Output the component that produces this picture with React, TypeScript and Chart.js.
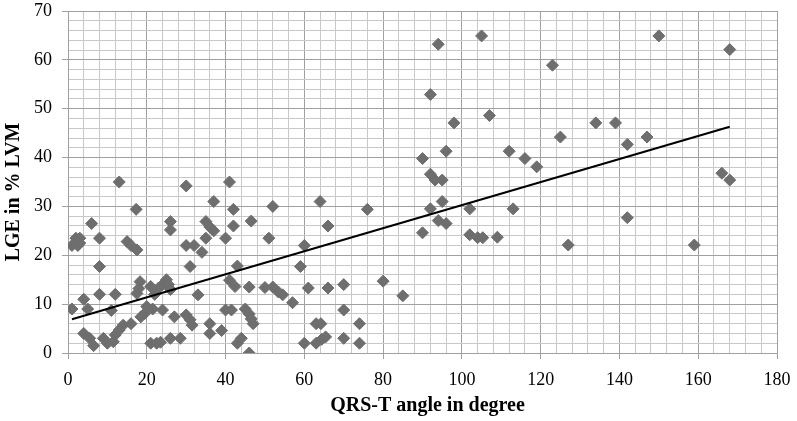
import { useEffect, useRef } from "react";
import { Chart, registerables } from "chart.js";

Chart.register(...registerables);

// QRS-T angle (degrees) of each patient
const qrsTAngle = [
  1, 2, 2.5, 3, 3, 1, 4, 5, 4, 5.5, 6.5, 6, 8, 8, 8, 9, 10, 11.5, 12, 13,
  14, 16, 11, 12, 13, 15, 16, 17.5, 17.3, 18.3, 18, 17.5, 18.5, 19.5, 20, 21.5, 21, 22, 23, 24,
  25, 25.5, 26, 21, 22.5, 23.5, 24, 26, 26, 26, 27, 28.5, 30, 31, 31.5, 30, 30, 32, 34, 31,
  33, 35, 36, 37, 35, 37, 36, 36, 39, 40, 41, 42, 42, 40, 41.5, 41, 42.4, 43, 43, 44,
  45, 46, 46.5, 47, 46.5, 46, 46, 51, 52, 50, 52, 53.4, 54.5, 57, 59, 60, 61, 60, 63, 64.4,
  65.4, 63, 64.2, 64, 66, 66, 70, 70, 70, 74, 74, 76, 80, 85,
  90, 90, 92, 92, 92, 93.2, 94, 94, 95, 95, 96, 96, 98, 102, 102, 104, 105.3, 105, 107, 109,
  112, 113, 116, 119, 123, 125, 127, 134, 139, 142, 142, 147, 150, 159, 166, 168, 168,
];

// LGE in % of LVM of each patient
const lgePercent = [
  22, 23.5, 22, 23.5, 22.5, 9, 11, 9, 4, 3, 1.5, 26.5, 23.5, 17.7, 12, 3, 2, 2.3, 3.7, 4.7,
  5.7, 6, 8.7, 12, 35, 22.8, 22, 21.1, 29.4, 14.6, 13.2, 12.2, 7.4, 8.1, 9.5, 9, 13.6, 12, 13.3, 14,
  15, 14, 13, 2, 2, 2.2, 8.8, 26.9, 25.2, 3, 7.4, 3, 7.8, 6.8, 5.7, 34.2, 22, 22, 20.6, 17.7,
  11.9, 26.9, 25.8, 25, 23.5, 31, 6, 4, 4.6, 23.5, 35, 29.4, 26, 8.8, 8.8, 14.9, 13.6, 17.8, 2, 3,
  9, 8, 7, 6, 27, 13.5, 0, 23.5, 30, 13.4, 13.5, 12.5, 11.9, 10.3, 17.7, 22, 13.3, 2, 2, 2.8,
  3.3, 6, 6, 31, 26, 13.3, 14, 8.8, 3, 6, 2, 29.4, 14.7, 11.7,
  24.6, 39.8, 29.5, 52.9, 36.6, 35.4, 27.1, 63.2, 31, 35.4, 26.5, 41.3, 47.1, 29.5, 24.2, 23.6, 23.6, 64.9, 48.6, 23.7,
  41.3, 29.5, 39.8, 38.1, 58.9, 44.2, 22.1, 47.1, 47.1, 42.7, 27.7, 44.2, 64.9, 22.1, 36.8, 35.4, 62.1,
];

// Linear trend line, read at its two ends
const trendX = [1, 168];
const trendY = [6.9, 46.3];

const X_MAJOR = 20;
const Y_MAJOR = 10;

const MAJOR_GRID = "#a0a0a0";
const MINOR_GRID = "#c8c8c8";

export default function App() {
  const canvasRef = useRef<HTMLCanvasElement | null>(null);

  useEffect(() => {
    const canvas = canvasRef.current;
    if (!canvas) return;

    const tickFont = { family: "'Liberation Serif', serif", size: 18 };
    const titleFont = { family: "'Liberation Serif', serif", size: 20, weight: "bold" as const };

    const chart = new Chart(canvas, {
      type: "scatter",
      data: {
        datasets: [
          {
            type: "line",
            data: trendX.map((x, i) => ({ x, y: trendY[i] })),
            borderColor: "#000000",
            borderWidth: 2,
            pointRadius: 0,
            fill: false,
            order: 0,
          } as any,
          {
            data: qrsTAngle.map((x, i) => ({ x, y: lgePercent[i] })),
            pointStyle: "rectRot",
            pointRadius: 6,
            backgroundColor: "#6e6e6e",
            borderColor: "#6e6e6e",
            borderWidth: 1,
            order: 1,
          },
        ],
      },
      options: {
        responsive: false,
        animation: false,
        layout: { padding: { top: 11, right: 20, left: 0, bottom: 0 } },
        plugins: {
          legend: { display: false },
          tooltip: { enabled: false },
        },
        scales: {
          x: {
            type: "linear",
            min: 0,
            max: 180,
            ticks: {
              stepSize: 4,
              autoSkip: false,
              maxRotation: 0,
              padding: 10,
              color: "#000000",
              font: tickFont,
              callback: (v: any) => (Number(v) % X_MAJOR === 0 ? String(v) : ""),
            },
            grid: {
              lineWidth: 1,
              tickLength: 6,
              color: (ctx: any) =>
                ctx.tick && ctx.tick.value % X_MAJOR === 0 ? MAJOR_GRID : MINOR_GRID,
              tickColor: (ctx: any) =>
                ctx.tick && ctx.tick.value % X_MAJOR === 0 ? MAJOR_GRID : "rgba(0,0,0,0)",
            },
            border: { color: MAJOR_GRID, width: 1 },
            title: {
              display: true,
              text: "  QRS-T angle in degree",
              color: "#000000",
              font: titleFont,
              padding: { top: 0, bottom: 3 },
            },
            afterFit: (scale: any) => {
              scale.height = 68;
              scale.paddingLeft = 0;
              scale.paddingRight = 0;
            },
          },
          y: {
            type: "linear",
            min: 0,
            max: 70,
            ticks: {
              stepSize: 2,
              autoSkip: false,
              padding: 10,
              color: "#000000",
              font: tickFont,
              callback: (v: any) => (Number(v) % Y_MAJOR === 0 ? String(v) : ""),
            },
            grid: {
              lineWidth: 1,
              tickLength: 6,
              color: (ctx: any) =>
                ctx.tick && ctx.tick.value % Y_MAJOR === 0 ? MAJOR_GRID : MINOR_GRID,
              tickColor: (ctx: any) =>
                ctx.tick && ctx.tick.value % Y_MAJOR === 0 ? MAJOR_GRID : "rgba(0,0,0,0)",
            },
            border: { color: MAJOR_GRID, width: 1 },
            title: {
              display: true,
              text: "LGE in % LVM    ",
              color: "#000000",
              font: titleFont,
              padding: { top: 2, bottom: 0 },
            },
            afterFit: (scale: any) => {
              scale.width = 68;
              scale.paddingTop = 0;
              scale.paddingBottom = 0;
            },
          },
        },
      },
    });

    return () => {
      chart.destroy();
    };
  }, []);

  return (
    <div
      style={{
        position: "absolute",
        left: 0,
        top: 0,
        width: 797,
        height: 421,
        background: "#ffffff",
      }}
    >
      <canvas ref={canvasRef} width={797} height={421} style={{ width: 797, height: 421 }} />
    </div>
  );
}
